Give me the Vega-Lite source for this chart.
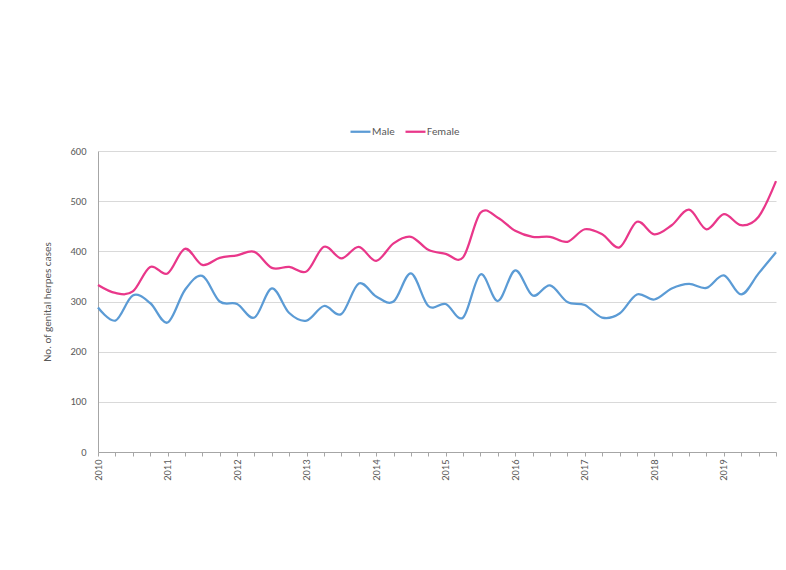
{
  "$schema": "https://vega.github.io/schema/vega-lite/v6.json",
  "autosize": "none",
  "width": 678,
  "height": 301,
  "padding": {"left": 98, "top": 151, "right": 10, "bottom": 118},
  "background": "white",
  "config": {
    "view": {"stroke": null},
    "font": "Carlito, Liberation Sans, sans-serif",
    "axis": {"labelColor": "#595959", "titleColor": "#595959", "labelFontSize": 10.5, "titleFontSize": 11, "titleFontWeight": "normal", "domainColor": "#a6a6a6", "tickColor": "#a6a6a6"}
  },
  "data": {
    "values": [
      {"t": 2010.00, "Male": 288, "Female": 333},
      {"t": 2010.25, "Male": 262, "Female": 317},
      {"t": 2010.50, "Male": 312, "Female": 320},
      {"t": 2010.75, "Male": 297, "Female": 369},
      {"t": 2011.00, "Male": 258, "Female": 356},
      {"t": 2011.25, "Male": 323, "Female": 405},
      {"t": 2011.50, "Male": 351, "Female": 373},
      {"t": 2011.75, "Male": 300, "Female": 387},
      {"t": 2012.00, "Male": 295, "Female": 392},
      {"t": 2012.25, "Male": 268, "Female": 399},
      {"t": 2012.50, "Male": 326, "Female": 367},
      {"t": 2012.75, "Male": 277, "Female": 369},
      {"t": 2013.00, "Male": 262, "Female": 360},
      {"t": 2013.25, "Male": 291, "Female": 409},
      {"t": 2013.50, "Male": 275, "Female": 386},
      {"t": 2013.75, "Male": 336, "Female": 409},
      {"t": 2014.00, "Male": 310, "Female": 381},
      {"t": 2014.25, "Male": 300, "Female": 416},
      {"t": 2014.50, "Male": 356, "Female": 429},
      {"t": 2014.75, "Male": 291, "Female": 403},
      {"t": 2015.00, "Male": 295, "Female": 395},
      {"t": 2015.25, "Male": 268, "Female": 388},
      {"t": 2015.50, "Male": 354, "Female": 477},
      {"t": 2015.75, "Male": 301, "Female": 467},
      {"t": 2016.00, "Male": 362, "Female": 441},
      {"t": 2016.25, "Male": 312, "Female": 429},
      {"t": 2016.50, "Male": 332, "Female": 429},
      {"t": 2016.75, "Male": 299, "Female": 419},
      {"t": 2017.00, "Male": 293, "Female": 444},
      {"t": 2017.25, "Male": 268, "Female": 434},
      {"t": 2017.50, "Male": 276, "Female": 408},
      {"t": 2017.75, "Male": 314, "Female": 459},
      {"t": 2018.00, "Male": 304, "Female": 434},
      {"t": 2018.25, "Male": 326, "Female": 452},
      {"t": 2018.50, "Male": 335, "Female": 483},
      {"t": 2018.75, "Male": 327, "Female": 444},
      {"t": 2019.00, "Male": 352, "Female": 474},
      {"t": 2019.25, "Male": 314, "Female": 452},
      {"t": 2019.50, "Male": 356, "Female": 469},
      {"t": 2019.75, "Male": 398, "Female": 540}
    ]
  },
  "transform": [{"fold": ["Male", "Female"], "as": ["sex", "cases"]}],
  "mark": {"type": "line", "interpolate": "cardinal", "strokeWidth": 2.25},
  "encoding": {
    "x": {
      "field": "t", "type": "quantitative",
      "scale": {"domain": [2010, 2019.75], "nice": false, "zero": false},
      "axis": {
        "title": null, "grid": false, "tickSize": 4, "labelAngle": 270, "labelPadding": 3,
        "values": [2010, 2010.25, 2010.5, 2010.75, 2011, 2011.25, 2011.5, 2011.75, 2012, 2012.25, 2012.5, 2012.75, 2013, 2013.25, 2013.5, 2013.75, 2014, 2014.25, 2014.5, 2014.75, 2015, 2015.25, 2015.5, 2015.75, 2016, 2016.25, 2016.5, 2016.75, 2017, 2017.25, 2017.5, 2017.75, 2018, 2018.25, 2018.5, 2018.75, 2019, 2019.25, 2019.5, 2019.75],
        "labelExpr": "datum.value % 1 == 0 ? format(datum.value, 'd') : ''",
        "labelFlush": false, "labelOverlap": false
      }
    },
    "y": {
      "field": "cases", "type": "quantitative",
      "scale": {"domain": [0, 600], "nice": false},
      "axis": {
        "title": "No. of genital herpes cases", "values": [0, 100, 200, 300, 400, 500, 600],
        "ticks": false, "labelPadding": 12, "titlePadding": 18,
        "gridColor": "#d9d9d9", "gridWidth": 1
      }
    },
    "color": {
      "field": "sex", "type": "nominal",
      "scale": {"domain": ["Male", "Female"], "range": ["#5b9bd5", "#e9378a"]},
      "legend": {
        "title": null, "orient": "none", "direction": "horizontal",
        "legendX": 251, "legendY": -31,
        "symbolType": "stroke", "symbolSize": 400, "symbolStrokeWidth": 2.25,
        "labelFontSize": 11, "labelColor": "#595959", "labelOffset": 0, "columnPadding": 6
      }
    }
  }
}
